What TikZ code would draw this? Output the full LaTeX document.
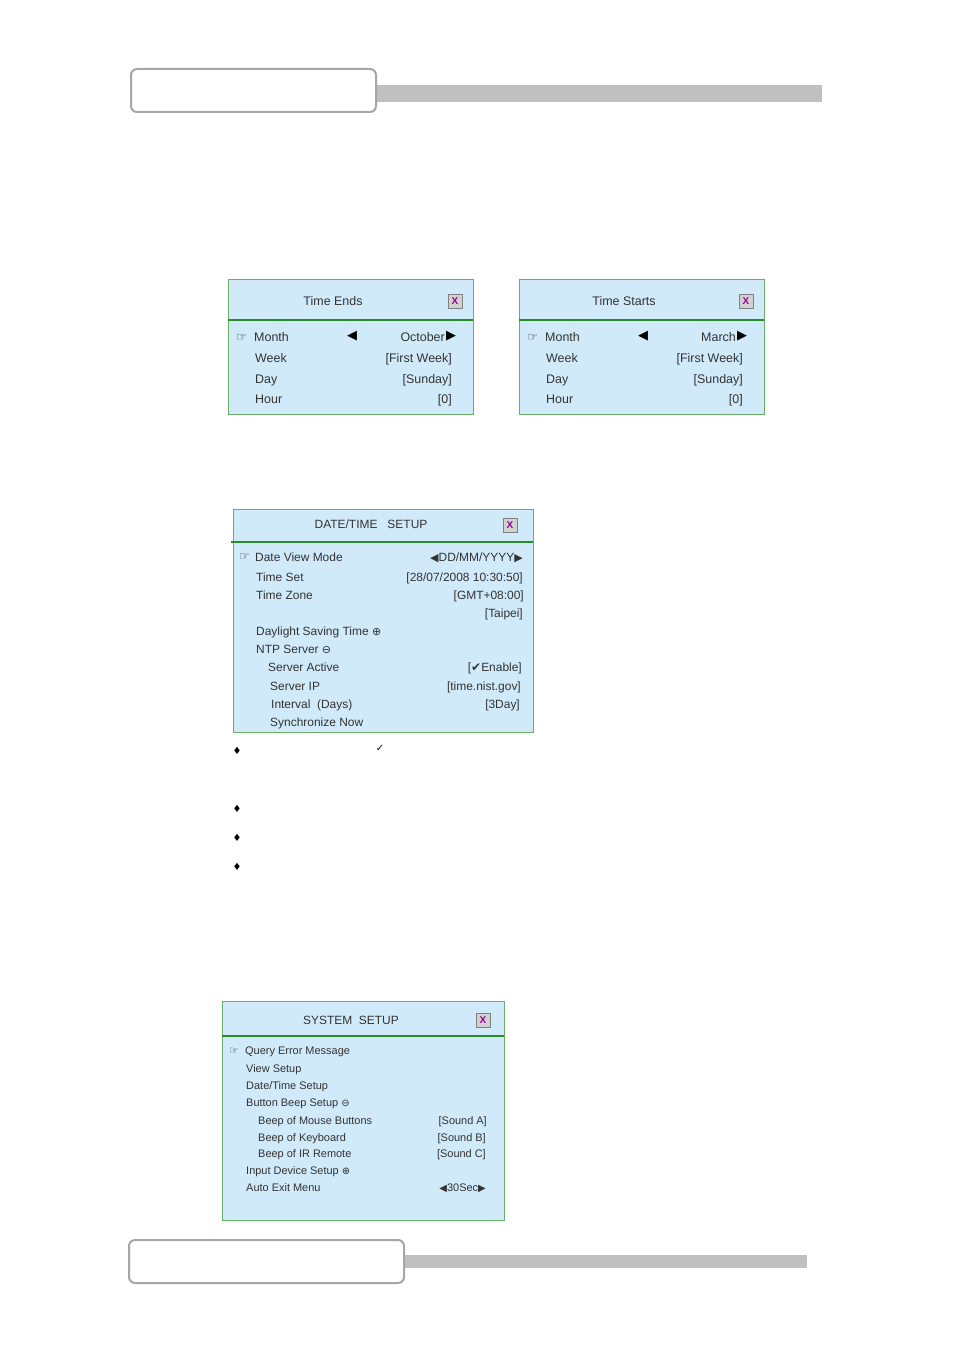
\documentclass[tikz,border=0pt]{standalone}
\usepackage{fontspec}
\setmainfont{Liberation Sans}
\newfontfamily\djv{DejaVu Sans}
\definecolor{panel}{RGB}{208,234,250}
\definecolor{pgreen}{RGB}{40,140,40}
\definecolor{bargray}{RGB}{192,192,192}
\definecolor{xpurple}{RGB}{150,0,150}
\tikzset{
 lbl/.style={anchor=base west,inner sep=0pt,text=black!80},
 rlbl/.style={anchor=base east,inner sep=0pt,text=black!80},
 ttl/.style={anchor=base,inner sep=0pt,text=black!80},
 xbtn/.style={draw=gray,fill=black!18,minimum width=14bp,minimum height=14bp,inner sep=0pt,font=\bfseries\fontsize{10}{10}\selectfont,text=xpurple},
 bul/.style={inner sep=0pt,font=\djv\fontsize{10}{10}\selectfont},
}
\newcommand{\hand}{{\djv ☞}}
\begin{document}
\begin{tikzpicture}[x=1bp,y=-1bp]
\useasboundingbox (0,0) rectangle (954,1350);
% headers
\fill[bargray] (376,85) rectangle (822,102);
\draw[gray!70,line width=2bp,fill=white,rounded corners=6bp] (131,69) rectangle (376,112);
\fill[bargray] (404,1255) rectangle (807,1268);
\draw[gray!70,line width=2bp,fill=white,rounded corners=6bp] (129,1240) rectangle (404,1283);

% Time Ends / Time Starts
\foreach \dx/\ttlt/\mon in {0/Time Ends/October, 291/Time Starts/March} {
\begin{scope}[xshift=\dx bp,font=\fontsize{12.5}{12.5}\selectfont]
\draw[pgreen!70,fill=panel] (228,279) rectangle (473,414);
\draw[pgreen,line width=1.2bp] (228,320) -- (473,320);
\node[ttl] (t) at (333,305) {\ttlt};
\node[xbtn] (x) at (455,301) {X};
\node[lbl] (h) at (236,341) {\hand};
\node[lbl] (m) at (254,341) {Month};
\node[inner sep=0pt,font=\djv\fontsize{13}{13}\selectfont] (la) at (352,336) {◀};
\node[rlbl] (mv) at (445,341) {\mon};
\node[inner sep=0pt,font=\djv\fontsize{13}{13}\selectfont] (ra) at (451,336) {▶};
\node[lbl] (w) at (255,362) {Week};
\node[rlbl] (wv) at (452,362) {[First Week]};
\node[lbl] (d) at (255,383) {Day};
\node[rlbl] (dv) at (452,383) {[Sunday]};
\node[lbl] (hr) at (255,403) {Hour};
\node[rlbl] (hv) at (452,403) {[0]};
\end{scope}}

% DATE/TIME SETUP
\begin{scope}[font=\fontsize{12}{12}\selectfont]
\draw[pgreen!70,fill=panel] (233,509) rectangle (533,732);
\draw[pgreen,line width=1.2bp] (231,542) -- (533,542);
\node[ttl] (dt) at (371,528) {DATE/TIME\ \ \ SETUP};
\node[xbtn] (dx) at (510,525) {X};
\node[lbl] (dh) at (239,560) {\hand};
\node[lbl] (a1) at (255,561) {Date View Mode};
\node[rlbl] (b1) at (523,561) {{\djv\fontsize{11}{11}\selectfont ◀}DD/MM/YYYY{\djv\fontsize{11}{11}\selectfont ▶}};
\node[lbl] (a2) at (256,581) {Time Set};
\node[rlbl] (b2) at (523,581) {[28/07/2008 10:30:50]};
\node[lbl] (a3) at (256,599) {Time Zone};
\node[rlbl] (b3) at (524,599) {[GMT+08:00]};
\node[rlbl] (b4) at (523,617) {[Taipei]};
\node[lbl] (a5) at (256,635) {Daylight Saving Time {\djv\fontsize{11}{11}\selectfont ⊕}};
\node[lbl] (a6) at (256,653) {NTP Server {\djv\fontsize{11}{11}\selectfont ⊖}};
\node[lbl] (a7) at (268,671) {Server Active};
\node[rlbl] (b7) at (522,671) {[{\djv ✔}Enable]};
\node[lbl] (a8) at (270,690) {Server IP};
\node[rlbl] (b8) at (521,690) {[time.nist.gov]};
\node[lbl] (a9) at (271,708) {Interval\ \ (Days)};
\node[rlbl] (b9) at (520,708) {[3Day]};
\node[lbl] (a10) at (270,726) {Synchronize Now};
\end{scope}
\node[bul] (d1) at (237,751) {♦};
\node[bul] (ck) at (380,748) {✓};
\node[bul] (d2) at (237,809) {♦};
\node[bul] (d3) at (237,838) {♦};
\node[bul] (d4) at (237,867) {♦};

% SYSTEM SETUP
\begin{scope}[font=\fontsize{11}{11}\selectfont]
\draw[pgreen!70,fill=panel] (222,1001) rectangle (504,1220);
\draw[pgreen,line width=1.2bp] (222,1036) -- (504,1036);
\node[ttl,font=\fontsize{12}{12}\selectfont] (st) at (351,1024) {SYSTEM\ \ SETUP};
\node[xbtn] (sx) at (483,1020) {X};
\node[lbl] (sh) at (229,1054) {\hand};
\node[lbl] (s1) at (245,1054) {Query Error Message};
\node[lbl] (s2) at (246,1072) {View Setup};
\node[lbl] (s3) at (246,1089) {Date/Time Setup};
\node[lbl] (s4) at (246,1106) {Button Beep Setup {\djv\fontsize{10}{10}\selectfont ⊖}};
\node[lbl] (s5) at (258,1124) {Beep of Mouse Buttons};
\node[rlbl] (v5) at (487,1124) {[Sound A]};
\node[lbl] (s6) at (258,1141) {Beep of Keyboard};
\node[rlbl] (v6) at (486,1141) {[Sound B]};
\node[lbl] (s7) at (258,1157) {Beep of IR Remote};
\node[rlbl] (v7) at (486,1157) {[Sound C]};
\node[lbl] (s8) at (246,1174) {Input Device Setup {\djv\fontsize{10}{10}\selectfont ⊕}};
\node[lbl] (s9) at (246,1191) {Auto Exit Menu};
\node[rlbl] (v9) at (486,1191) {{\djv\fontsize{10}{10}\selectfont ◀}30Sec{\djv\fontsize{10}{10}\selectfont ▶}};
\end{scope}
\end{tikzpicture}
\end{document}
